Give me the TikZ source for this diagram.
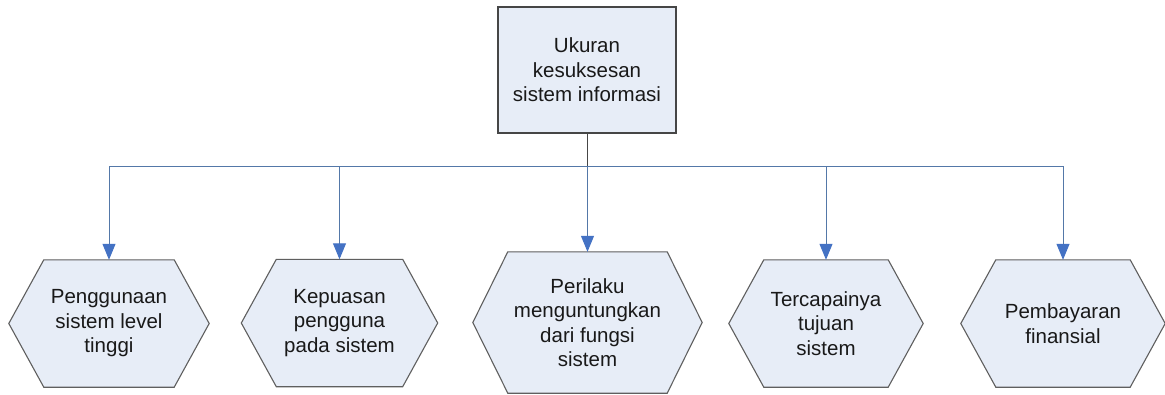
\documentclass[tikz,border=0pt]{standalone}
\usepackage{fontspec}
\setmainfont{Liberation Sans}
\usetikzlibrary{arrows.meta,backgrounds}
\definecolor{boxfill}{RGB}{231,237,247}
\definecolor{boxline}{RGB}{70,70,70}
\definecolor{hexline}{RGB}{95,95,95}
\definecolor{conn}{RGB}{84,120,168}
\definecolor{tip}{RGB}{68,114,196}
\begin{document}
\begin{tikzpicture}[x=1pt,y=1pt,
  txt/.style={font=\fontsize{20.5}{24.5}\selectfont, align=center, text=black!90, inner sep=0pt},
  topbox/.style={txt, draw=boxline, fill=boxfill, line width=1.1pt, minimum width=178pt, minimum height=126pt},
  hexcore/.style={txt, minimum height=127pt},
  hexshape/.style={draw=hexline, fill=boxfill, line width=1.1pt, line join=miter},
  connector/.style={draw=conn, line width=1pt},
  arrowed/.style={connector, -{Triangle[length=16pt,width=13pt,fill=tip,color=tip]}}
]
\useasboundingbox (0,0) rectangle (1165,-394);

\node[topbox] (top) at (587,-70) {Ukuran\\kesuksesan\\sistem informasi};

\node[hexcore, minimum width=130pt] (h1) at (109,-323.5) {Penggunaan\\sistem level\\tinggi};
\node[hexcore, minimum width=126pt] (h2) at (339.5,-323) {Kepuasan\\pengguna\\pada sistem};
\node[hexcore, minimum width=159pt, minimum height=141pt] (h3) at (587.5,-322.5) {Perilaku\\menguntungkan\\dari fungsi\\sistem};
\node[hexcore, minimum width=124pt] (h4) at (826,-323.5) {Tercapainya\\tujuan\\sistem};
\node[hexcore, minimum width=134pt] (h5) at (1063,-323.5) {Pembayaran\\finansial};

\begin{scope}[on background layer]
\fill[white] (0,0) rectangle (1165,-394);
\foreach \h in {h1,h2,h3,h4,h5}{
  \draw[hexshape] (\h.north west) -- (\h.north east) -- ([xshift=35pt]\h.east)
    -- (\h.south east) -- (\h.south west) -- ([xshift=-35pt]\h.west) -- cycle;
}
\end{scope}

\coordinate (bus) at (587,-166);
\coordinate (b1) at (bus -| h1.north);
\coordinate (b5) at (bus -| h5.north);
\draw[connector] (b1) -- (b5);
\draw[connector, draw=boxline] (top.south) -- (bus);
\foreach \h in {h1,h2,h3,h4,h5}{
  \draw[arrowed] (bus -| \h.north) -- (\h.north);
}
\end{tikzpicture}
\end{document}
